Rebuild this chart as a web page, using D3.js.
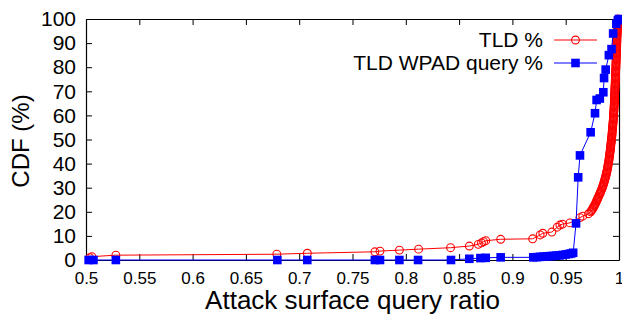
<!DOCTYPE html>
<html>
<head>
<meta charset="utf-8">
<script src="https://cdn.jsdelivr.net/npm/d3@7"></script>
<style>
  body { margin: 0; background: #fff; }
  svg { display: block; font-family: "Liberation Sans", Arial, sans-serif; }
</style>
</head>
<body>
<svg id="chart" width="622" height="314"></svg>
<script>
// TLD % (red circles): [attack surface query ratio, CDF %]
var tldPoints = [
  [0.5035, 1.0], [0.5055, 1.4], [0.528, 2.0], [0.679, 2.4], [0.7076, 2.8], [0.771, 3.4],
  [0.7758, 3.7], [0.794, 4.1], [0.812, 4.5], [0.842, 5.1], [0.8596, 5.8], [0.868, 6.5],
  [0.871, 7.1], [0.873, 7.6], [0.875, 8.0], [0.889, 8.6], [0.919, 8.8], [0.926, 10.4],
  [0.9285, 11.1], [0.937, 11.6], [0.942, 13.6], [0.9446, 14.5], [0.947, 14.9], [0.954, 15.4],
  [0.9634, 17.6], [0.966, 18.2], [0.9715, 19.2],
  // dense band of overlapping circles near 1
  [0.9735, 20], [0.9742, 20.5], [0.9749, 21], [0.9756, 21.5], [0.9762, 22], [0.9768, 22.5],
  [0.9774, 23], [0.978, 23.5], [0.9785, 24], [0.979, 24.5], [0.9795, 25], [0.98, 25.5],
  [0.9805, 26], [0.981, 26.5], [0.9815, 27], [0.982, 27.5], [0.9825, 28], [0.983, 28.5],
  [0.9834, 29], [0.9839, 29.5], [0.9843, 30], [0.9847, 30.5], [0.9851, 31], [0.9855, 31.5],
  [0.9858, 32], [0.9861, 32.5], [0.9865, 33], [0.9868, 33.5], [0.9871, 34], [0.9874, 34.5],
  [0.9877, 35], [0.988, 35.5], [0.9882, 36], [0.9885, 36.5], [0.9887, 37], [0.989, 37.5],
  [0.9892, 38], [0.9894, 38.5], [0.9896, 39], [0.9898, 39.5], [0.99, 40], [0.9902, 40.5],
  [0.9904, 41], [0.9906, 41.5], [0.9907, 42], [0.9909, 42.5], [0.991, 43], [0.9912, 43.5],
  [0.9913, 44], [0.9915, 44.5], [0.9916, 45], [0.9918, 45.5], [0.9919, 46], [0.992, 46.5],
  [0.9922, 47], [0.9923, 47.5], [0.9924, 48], [0.9925, 48.5], [0.9927, 49], [0.9928, 49.5],
  [0.9929, 50], [0.993, 50.5], [0.9932, 51], [0.9933, 51.5], [0.9934, 52], [0.9935, 52.5],
  [0.9936, 53], [0.9937, 53.5], [0.9938, 54], [0.9939, 54.5], [0.994, 55], [0.9941, 55.5],
  [0.9942, 56], [0.9943, 56.5], [0.9944, 57], [0.9945, 57.5], [0.9946, 58], [0.9947, 58.5],
  [0.9947, 59], [0.9948, 59.5], [0.9949, 60], [0.995, 60.5], [0.995, 61], [0.9951, 61.5],
  [0.9952, 62], [0.9953, 62.5], [0.9953, 63], [0.9954, 63.5], [0.9955, 64], [0.9955, 64.5],
  [0.9956, 65], [0.9956, 65.5], [0.9957, 66], [0.9957, 66.5], [0.9958, 67], [0.9958, 67.5],
  [0.9959, 68], [0.9959, 68.5], [0.996, 69], [0.996, 69.5], [0.9961, 70], [0.9961, 70.5],
  [0.9962, 71], [0.9962, 71.5], [0.9963, 72], [0.9963, 72.5], [0.9964, 73], [0.9964, 73.5],
  [0.9965, 74], [0.9965, 74.5], [0.9966, 75], [0.9966, 75.5], [0.9967, 76], [0.9967, 76.5],
  [0.9968, 77], [0.9968, 77.5], [0.9969, 78], [0.9969, 78.5], [0.997, 79], [0.997, 79.5],
  [0.9971, 80], [0.9971, 80.5], [0.9971, 81], [0.9972, 81.5], [0.9972, 82], [0.9973, 82.5],
  [0.9973, 83], [0.9974, 83.5], [0.9974, 84], [0.9975, 84.5], [0.9975, 85], [0.9975, 85.5],
  [0.9976, 86], [0.9976, 86.5], [0.9977, 87], [0.9977, 87.5], [0.9977, 88], [0.9978, 88.5],
  [0.9978, 89], [0.9979, 89.5], [0.9979, 90], [0.998, 90.5], [0.998, 91], [0.998, 91.5],
  [0.9981, 92], [0.9981, 92.5], [0.9982, 93], [0.9982, 93.5], [0.9983, 94], [0.9984, 94.5],
  [0.9984, 95], [0.9985, 95.5], [0.9986, 96], [0.9986, 96.5], [0.9987, 97], [0.9987, 97.5],
  [0.9988, 98], [0.9989, 98.5], [0.999, 99], [0.999, 99.5], [0.9991, 100]
];

// TLD WPAD query % (blue squares)
var wpadRatio = [0.5025, 0.507, 0.528, 0.6795, 0.7076, 0.771, 0.7758, 0.794, 0.8115, 0.8424,
  0.8596, 0.870, 0.875, 0.889, 0.9196, 0.923, 0.926, 0.929, 0.932, 0.935,
  0.938, 0.941, 0.944, 0.947, 0.950, 0.953, 0.955, 0.957, 0.9597, 0.9617,
  0.9634, 0.9734, 0.9775, 0.979, 0.982, 0.9853, 0.986, 0.9875, 0.9905, 0.993,
  0.9945, 0.9975, 0.999, 1.0];
var wpadCdf = [0, 0, 0, 0, 0, 0, 0, 0, 0, 0,
  0.5, 0.8, 0.9, 1.1, 1.1, 1.2, 1.3, 1.4, 1.5, 1.6,
  1.7, 1.8, 1.9, 2.1, 2.3, 2.5, 2.7, 3.0, 15.2, 34.3,
  43.4, 53.0, 60.9, 66.4, 67.0, 69.6, 75.5, 79.0, 85.0, 87.5,
  94.0, 98.0, 99.5, 100];

var xTicks = [0.5, 0.55, 0.6, 0.65, 0.7, 0.75, 0.8, 0.85, 0.9, 0.95, 1];
var yTicks = [0, 10, 20, 30, 40, 50, 60, 70, 80, 90, 100];
var seriesNames = ["TLD %", "TLD WPAD query %"];

var plotLeft = 86, plotRight = 619, plotTop = 19, plotBottom = 260;
var svg = d3.select("#chart");

var x = d3.scaleLinear().domain([0.5, 1]).range([plotLeft, plotRight]);
var y = d3.scaleLinear().domain([0, 100]).range([plotBottom, plotTop]);

var fmtX = function(d) { return d === 1 ? "1" : String(d); };

// axes, ticks pointing inward on all four sides
var gx = svg.append("g").attr("transform", "translate(0," + plotBottom + ")")
  .call(d3.axisBottom(x).tickValues(xTicks).tickFormat(fmtX).tickSizeInner(-6).tickSizeOuter(0).tickPadding(12));
gx.selectAll("text").style("font-size", "17px");

var gy = svg.append("g").attr("transform", "translate(" + plotLeft + ",0)")
  .call(d3.axisLeft(y).tickValues(yTicks).tickSizeInner(-6).tickSizeOuter(0).tickPadding(10));
gy.selectAll("text").style("font-size", "21px");

svg.append("g").attr("transform", "translate(0," + plotTop + ")")
  .call(d3.axisTop(x).tickValues(xTicks).tickFormat("").tickSizeInner(-6).tickSizeOuter(0));
svg.append("g").attr("transform", "translate(" + plotRight + ",0)")
  .call(d3.axisRight(y).tickValues(yTicks).tickFormat("").tickSizeInner(-6).tickSizeOuter(0));

svg.selectAll(".domain").attr("stroke", "#000").attr("stroke-width", 1.2);
svg.selectAll(".tick line").attr("stroke", "#000");
svg.selectAll(".tick text").attr("fill", "#000");

// axis titles
svg.append("text").attr("x", (plotLeft + plotRight) / 2).attr("y", 309)
  .attr("text-anchor", "middle").style("font-size", "26px").text("Attack surface query ratio");
svg.append("text").attr("transform", "translate(29,141) rotate(-90)")
  .attr("text-anchor", "middle").style("font-size", "24px").text("CDF (%)");

var line = d3.line().x(function(d) { return x(d[0]); }).y(function(d) { return y(d[1]); });

var wpad = wpadRatio.map(function(v, i) { return [v, wpadCdf[i]]; });

// red series
svg.append("path").datum(tldPoints).attr("d", line)
  .attr("fill", "none").attr("stroke", "#ff0000").attr("stroke-width", 1);
svg.append("g").selectAll("circle").data(tldPoints).enter().append("circle")
  .attr("cx", function(d) { return x(d[0]); })
  .attr("cy", function(d) { return y(d[1]); })
  .attr("r", 3.9).attr("fill", "none").attr("stroke", "#ff0000").attr("stroke-width", 1.1);

// blue series
var sq = 8.6;
svg.append("path").datum(wpad).attr("d", line)
  .attr("fill", "none").attr("stroke", "#0000ff").attr("stroke-width", 1);
svg.append("g").selectAll("rect").data(wpad).enter().append("rect")
  .attr("x", function(d) { return x(d[0]) - sq / 2; })
  .attr("y", function(d) { return y(d[1]) - sq / 2; })
  .attr("width", sq).attr("height", sq).attr("fill", "#0000ff");

// legend
var lg = svg.append("g");
lg.append("text").attr("x", 543).attr("y", 47).attr("text-anchor", "end")
  .style("font-size", "21px").text(seriesNames[0]);
lg.append("line").attr("x1", 554).attr("x2", 597).attr("y1", 40).attr("y2", 40)
  .attr("stroke", "#ff0000").attr("stroke-width", 1);
lg.append("circle").attr("cx", 575.5).attr("cy", 40).attr("r", 3.9)
  .attr("fill", "none").attr("stroke", "#ff0000").attr("stroke-width", 1.1);
lg.append("text").attr("x", 543).attr("y", 70).attr("text-anchor", "end")
  .style("font-size", "21px").text(seriesNames[1]);
lg.append("line").attr("x1", 554).attr("x2", 597).attr("y1", 63).attr("y2", 63)
  .attr("stroke", "#0000ff").attr("stroke-width", 1);
lg.append("rect").attr("x", 575.5 - sq / 2).attr("y", 63 - sq / 2)
  .attr("width", sq).attr("height", sq).attr("fill", "#0000ff");
</script>
</body>
</html>
